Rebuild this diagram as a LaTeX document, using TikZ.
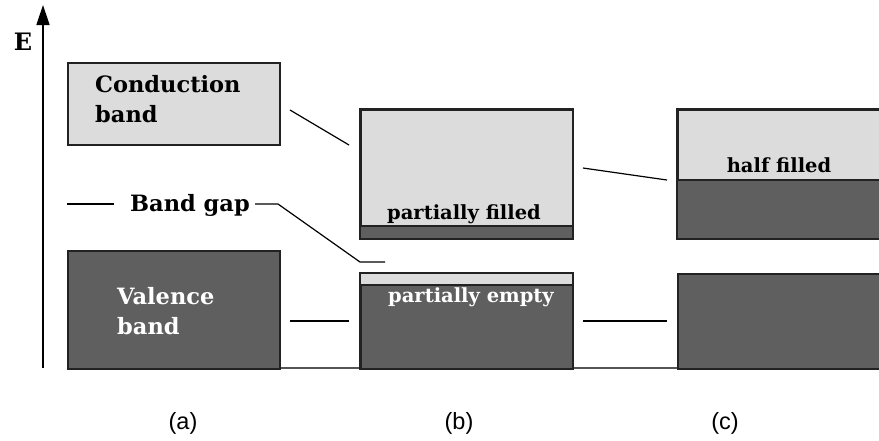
\documentclass[tikz,border=0pt]{standalone}
\usepackage{fontspec}
\setmainfont{DejaVu Serif}
\newfontfamily\capfont{Liberation Sans}
\usetikzlibrary{arrows.meta}
\definecolor{bandlight}{HTML}{DCDCDC}
\definecolor{banddark}{HTML}{5F5F5F}
\definecolor{edge}{HTML}{222222}
\definecolor{floor}{HTML}{555555}
\tikzset{
  band/.style={draw=edge, line width=1.5pt, inner sep=0pt, anchor=north west},
  lightband/.style={band, fill=bandlight},
  darkband/.style={band, fill=banddark},
  rim/.style={draw=edge, line width=1.5pt},
  link/.style={draw=black, line width=1.2pt},
  bigtxt/.style={font=\fontsize{22.5}{29.5}\selectfont\bfseries, inner sep=0pt, align=left},
  smalltxt/.style={font=\fontsize{19.5}{22}\selectfont\bfseries, inner sep=0pt},
  axistxt/.style={font=\fontsize{24}{26}\selectfont\bfseries, inner sep=0pt},
  captxt/.style={font=\capfont\fontsize{23.5}{26}\selectfont, inner sep=0pt}
}
\begin{document}
\begin{tikzpicture}[x=1pt, y=-1pt]
\useasboundingbox (0,0) rectangle (879,440);
\clip (0,0) rectangle (879,440);

% energy axis
\coordinate (axbot) at (43,368);
\coordinate (axtop) at (43,5);
\draw[line width=1.5pt, -{Triangle[width=13pt,length=20pt]}] (axbot) -- (axtop);
\node[axistxt, anchor=base] (E) at (23,50) {E};

% common floor line
\coordinate (floorL) at (67,368);
\coordinate (floorR) at (885,368);
\draw[draw=floor, line width=1.5pt] (floorL) -- (floorR);

% (a) insulator
\node[lightband, minimum width=212pt, minimum height=82pt] (cA) at (67,62) {};
\node[darkband, minimum width=212pt, minimum height=118pt] (vA) at (67,250) {};
\node[bigtxt, anchor=base west] (cAtxt) at (95,122) {Conduction\\band};
\node[bigtxt, anchor=base west, text=white] (vAtxt) at (117,334) {Valence\\band};

% band gap label and its leaders
\coordinate (gapL) at (67,204);
\coordinate (gapLe) at (114,204);
\node[bigtxt, anchor=base] (gap) at (190,211) {Band gap};
\coordinate (gapR) at (255,204);
\coordinate (gapK) at (278,204);
\coordinate (gapD) at (360,262);
\coordinate (gapE) at (385,262);
\draw[link] (gapL) -- (gapLe);
\draw[link] (gapR) -- (gapK) -- (gapD) -- (gapE);

% (b) metal with overlapping bands
\node[lightband, minimum width=212pt, minimum height=129pt] (cB) at (360,109) {};
\fill[banddark] (360,226) rectangle (572,238);
\draw[rim] (360,226) -- (572,226);
\draw[rim] (cB.south west) rectangle (cB.north east);
\node[smalltxt, anchor=base] (cBtxt) at (464,219) {partially filled};

\node[darkband, minimum width=212pt, minimum height=95pt] (vB) at (360,273) {};
\fill[bandlight] (360,273) rectangle (572,285);
\draw[rim] (360,285) -- (572,285);
\draw[rim] (vB.south west) rectangle (vB.north east);
\node[smalltxt, anchor=base, text=white] (vBtxt) at (471,302) {partially empty};

% (c) metal with half filled band
\node[lightband, minimum width=212pt, minimum height=129pt] (cC) at (677,109) {};
\fill[banddark] (677,180) rectangle (889,238);
\draw[rim] (677,180) -- (889,180);
\draw[rim] (cC.south west) rectangle (cC.north east);
\node[smalltxt, anchor=base] (cCtxt) at (779,172) {half filled};
\node[darkband, minimum width=212pt, minimum height=95pt] (vC) at (677,273) {};

% connectors between panels
\coordinate (a1) at (290,110);
\coordinate (b1) at (349,145);
\coordinate (a2) at (290,321);
\coordinate (b2) at (349,321);
\coordinate (a3) at (583,168);
\coordinate (b3) at (667,180);
\coordinate (a4) at (583,321);
\coordinate (b4) at (667,321);
\draw[link] (a1) -- (b1);
\draw[link] (a2) -- (b2);
\draw[link] (a3) -- (b3);
\draw[link] (a4) -- (b4);

% panel captions
\node[captxt] (capA) at (183,423) {(a)};
\node[captxt] (capB) at (459,423) {(b)};
\node[captxt] (capC) at (725,423) {(c)};
\end{tikzpicture}
\end{document}
